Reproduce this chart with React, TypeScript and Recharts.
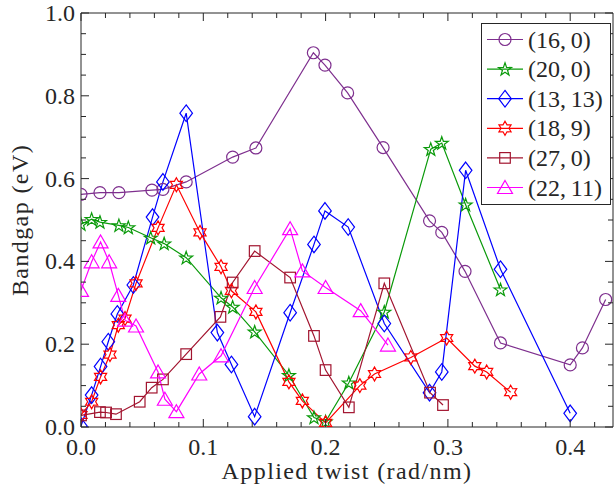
import React from 'react';
import { Legend, Line, LineChart, ReferenceLine, XAxis, YAxis } from 'recharts';

// twist values (rad/nm) and bandgaps (eV) for each nanotube
const x16_0 = [0, 0.0155, 0.031, 0.058, 0.067, 0.086, 0.124, 0.143, 0.19, 0.1995, 0.218, 0.247, 0.285, 0.295, 0.314, 0.343, 0.4, 0.41, 0.429];
const gap16_0 = [0.562, 0.566, 0.566, 0.572, 0.574, 0.592, 0.652, 0.674, 0.904, 0.874, 0.807, 0.675, 0.498, 0.47, 0.376, 0.203, 0.15, 0.191, 0.308];

const x20_0 = [0, 0.0087, 0.0155, 0.031, 0.0387, 0.057, 0.068, 0.086, 0.1145, 0.124, 0.142, 0.17, 0.1905, 0.2, 0.219, 0.248, 0.286, 0.295, 0.3145, 0.343];
const gap20_0 = [0.49, 0.502, 0.495, 0.487, 0.482, 0.457, 0.443, 0.409, 0.312, 0.29, 0.23, 0.125, 0.023, 0.013, 0.107, 0.278, 0.671, 0.686, 0.537, 0.332];

const x13_13 = [0, 0.0087, 0.016, 0.0223, 0.0297, 0.0428, 0.0585, 0.067, 0.086, 0.1115, 0.123, 0.142, 0.171, 0.1905, 0.1995, 0.2185, 0.248, 0.285, 0.295, 0.3145, 0.343, 0.4];
const gap13_13 = [0.002, 0.077, 0.146, 0.206, 0.273, 0.343, 0.507, 0.592, 0.758, 0.228, 0.151, 0.025, 0.276, 0.441, 0.522, 0.483, 0.25, 0.083, 0.133, 0.62, 0.381, 0.033];

const x18_9 = [0, 0.0087, 0.016, 0.0237, 0.0305, 0.036, 0.045, 0.063, 0.078, 0.0973, 0.1145, 0.123, 0.143, 0.17, 0.181, 0.2, 0.228, 0.24, 0.2697, 0.299, 0.322, 0.3317, 0.3513];
const gap18_9 = [0.029, 0.061, 0.121, 0.175, 0.246, 0.262, 0.347, 0.481, 0.585, 0.47, 0.387, 0.329, 0.278, 0.109, 0.063, 0.01, 0.1, 0.128, 0.168, 0.215, 0.147, 0.133, 0.084];

const x27_0 = [0, 0.0155, 0.0205, 0.0286, 0.048, 0.0578, 0.067, 0.086, 0.114, 0.124, 0.142, 0.171, 0.1905, 0.2, 0.219, 0.248, 0.2854, 0.296];
const gap27_0 = [0.028, 0.036, 0.035, 0.031, 0.061, 0.095, 0.115, 0.176, 0.266, 0.349, 0.425, 0.361, 0.22, 0.1375, 0.0475, 0.347, 0.083, 0.053];

const x22_11 = [0, 0.0087, 0.016, 0.023, 0.0305, 0.036, 0.045, 0.063, 0.0686, 0.078, 0.0967, 0.1145, 0.142, 0.171, 0.181, 0.2, 0.2287, 0.251];
const gap22_11 = [0.33, 0.399, 0.447, 0.399, 0.318, 0.258, 0.244, 0.133, 0.067, 0.037, 0.128, 0.172, 0.337, 0.479, 0.377, 0.337, 0.281, 0.198];

const xTicks = [0, 0.02, 0.04, 0.06, 0.08, 0.1, 0.12, 0.14, 0.16, 0.18, 0.2, 0.22, 0.24, 0.26, 0.28, 0.3, 0.32, 0.34, 0.36, 0.38, 0.4, 0.42];
const yTicks = [0, 0.05, 0.1, 0.15, 0.2, 0.25, 0.3, 0.35, 0.4, 0.45, 0.5, 0.55, 0.6, 0.65, 0.7, 0.75, 0.8, 0.85, 0.9, 0.95, 1];

type MarkerKind = 'circle' | 'pentagram' | 'diamond' | 'hexagram' | 'square' | 'triangle';

const zip = (xs: number[], ys: number[]) => xs.map((x, i) => ({ x, y: ys[i] }));

const series = [
  { name: '(16,\u20090)', color: '#7E2F8E', marker: 'circle' as MarkerKind, data: zip(x16_0, gap16_0) },
  { name: '(20,\u20090)', color: '#0A9A0A', marker: 'pentagram' as MarkerKind, data: zip(x20_0, gap20_0) },
  { name: '(13,\u200913)', color: '#0000FF', marker: 'diamond' as MarkerKind, data: zip(x13_13, gap13_13) },
  { name: '(18,\u20099)', color: '#FF0000', marker: 'hexagram' as MarkerKind, data: zip(x18_9, gap18_9) },
  { name: '(27,\u20090)', color: '#A2142F', marker: 'square' as MarkerKind, data: zip(x27_0, gap27_0) },
  { name: '(22,\u200911)', color: '#FF00FF', marker: 'triangle' as MarkerKind, data: zip(x22_11, gap22_11) },
];

const W = 615;
const H = 496;
const PLOT_LEFT = 81;
const PLOT_TOP = 13;
const PLOT_RIGHT = 613;
const PLOT_BOTTOM = 427;
const AXIS = '#262626';
const FONT = "'Liberation Serif', 'DejaVu Serif', serif";
const textStyle = { fontFamily: FONT, fontSize: 24 };

const starPoints = (cx: number, cy: number, n: number, outer: number, inner: number) => {
  const pts: string[] = [];
  for (let i = 0; i < n * 2; i++) {
    const r = i % 2 === 0 ? outer : inner;
    const a = -Math.PI / 2 + (i * Math.PI) / n;
    pts.push(`${(cx + r * Math.cos(a)).toFixed(2)},${(cy + r * Math.sin(a)).toFixed(2)}`);
  }
  return pts.join(' ');
};

const Marker = ({ kind, cx, cy, color }: { kind: MarkerKind; cx: number; cy: number; color: string }) => {
  const common = { fill: 'none', stroke: color, strokeWidth: 1.2 };
  switch (kind) {
    case 'circle':
      return <circle cx={cx} cy={cy} r={6} {...common} />;
    case 'pentagram':
      return <polygon points={starPoints(cx, cy + 0.5, 5, 6.8, 2.7)} {...common} />;
    case 'hexagram':
      return <polygon points={starPoints(cx, cy, 6, 7, 4)} {...common} />;
    case 'diamond':
      return <polygon points={`${cx},${cy - 8.3} ${cx + 6.3},${cy} ${cx},${cy + 8.3} ${cx - 6.3},${cy}`} {...common} />;
    case 'square':
      return <rect x={cx - 5.3} y={cy - 5.3} width={10.6} height={10.6} {...common} />;
    case 'triangle':
      return <polygon points={`${cx},${cy - 7} ${cx + 7.5},${cy + 6} ${cx - 7.5},${cy + 6}`} {...common} />;
  }
};

const isMajor = (v: number, step: number) => Math.abs(v / step - Math.round(v / step)) < 1e-6;

// bottom axis ticks point inward; a matching tick is drawn along the top edge
const XTick = (props: any) => {
  const { x, y, payload } = props;
  const v = payload.value as number;
  const major = isMajor(v, 0.1);
  const len = major ? 8 : 5;
  return (
    <g>
      <line x1={x} x2={x} y1={y} y2={y - len} stroke={AXIS} />
      <line x1={x} x2={x} y1={PLOT_TOP} y2={PLOT_TOP + len} stroke={AXIS} />
      {major && (
        <text x={x} y={y + 28} textAnchor="middle" fill={AXIS} style={textStyle}>
          {v.toFixed(1)}
        </text>
      )}
    </g>
  );
};

const YTick = (props: any) => {
  const { x, y, payload } = props;
  const v = payload.value as number;
  const major = isMajor(v, 0.2);
  const len = major ? 8 : 5;
  return (
    <g>
      <line x1={x} x2={x + len} y1={y} y2={y} stroke={AXIS} />
      <line x1={PLOT_RIGHT} x2={PLOT_RIGHT - len} y1={y} y2={y} stroke={AXIS} />
      {major && (
        <text x={x - 6} y={y + 8} textAnchor="end" fill={AXIS} style={textStyle}>
          {v.toFixed(1)}
        </text>
      )}
    </g>
  );
};

const LegendBox = () => (
  <svg width={130} height={182} style={{ display: 'block' }}>
    <rect x={0.5} y={0.5} width={129} height={181} fill="#fff" stroke={AXIS} />
    {series.map((s, i) => {
      const cy = 16.5 + i * 29.6;
      return (
        <g key={s.name}>
          <line x1={6} x2={42} y1={cy} y2={cy} stroke={s.color} strokeWidth={1.2} />
          <Marker kind={s.marker} cx={24} cy={cy} color={s.color} />
          <text x={47} y={cy + 8} fill={AXIS} style={textStyle}>
            {s.name}
          </text>
        </g>
      );
    })}
  </svg>
);

export default function App() {
  return (
    <div style={{ position: 'absolute', left: 0, top: 0, width: W, height: H, background: '#fff', fontFamily: FONT }}>
      <LineChart
        width={W}
        height={H}
        margin={{ top: PLOT_TOP, right: W - PLOT_RIGHT, bottom: 0, left: 0 }}
        style={{ fontFamily: FONT }}
      >
        <XAxis
          type="number"
          dataKey="x"
          domain={[0, 0.435]}
          allowDataOverflow
          ticks={xTicks}
          interval={0}
          tickSize={0}
          tickMargin={0}
          tickLine={false}
          tick={<XTick />}
          axisLine={{ stroke: AXIS }}
          height={H - PLOT_BOTTOM}
          label={{
            value: 'Applied twist (rad/nm)',
            position: 'insideBottom',
            offset: 17,
            fill: AXIS,
            style: { ...textStyle, letterSpacing: '1.4px' },
          }}
        />
        <YAxis
          type="number"
          domain={[0, 1]}
          allowDataOverflow
          ticks={yTicks}
          interval={0}
          tickSize={0}
          tickMargin={0}
          tickLine={false}
          tick={<YTick />}
          axisLine={{ stroke: AXIS }}
          width={PLOT_LEFT}
          label={{
            value: 'Bandgap (eV)',
            angle: -90,
            position: 'insideLeft',
            offset: 19,
            fill: AXIS,
            style: { ...textStyle, textAnchor: 'middle', letterSpacing: '1.4px' },
          }}
        />
        <ReferenceLine y={1} stroke={AXIS} />
        <ReferenceLine x={0.435} stroke={AXIS} />
        {series.map((s) => (
          <Line
            key={s.name}
            data={s.data}
            dataKey="y"
            name={s.name}
            type="linear"
            stroke={s.color}
            strokeWidth={1.2}
            isAnimationActive={false}
            activeDot={false}
            dot={(p: any) => <Marker key={`${s.name}-${p.index}`} kind={s.marker} cx={p.cx} cy={p.cy} color={s.color} />}
          />
        ))}
        <Legend
          layout="vertical"
          align="center"
          verticalAlign="middle"
          content={() => <LegendBox />}
          wrapperStyle={{ left: 481, top: 23, width: 130, height: 182 }}
        />
      </LineChart>
    </div>
  );
}
